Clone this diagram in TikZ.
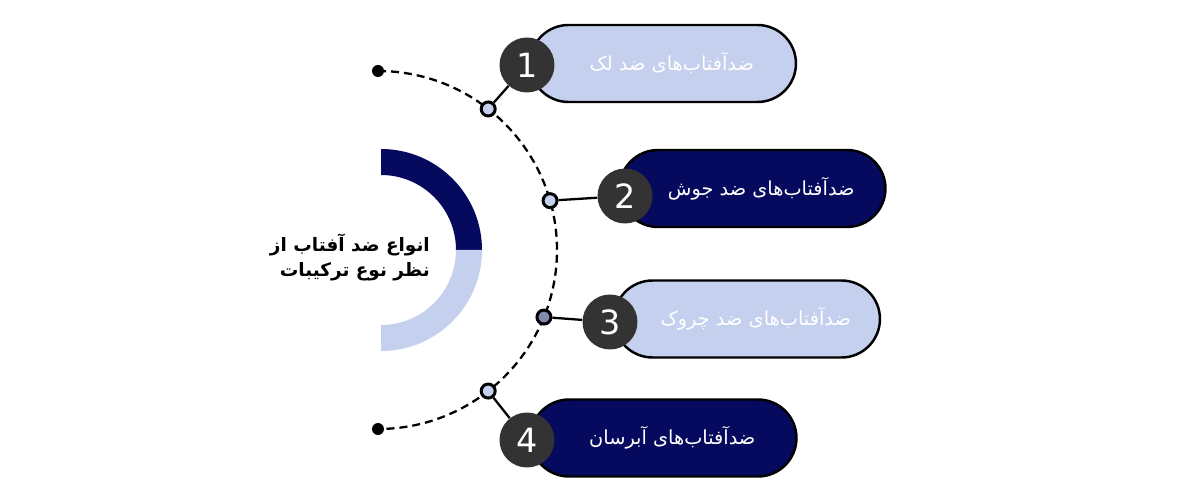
\documentclass[tikz,border=0pt]{standalone}
\usepackage{fontspec}
\setmainfont{DejaVu Sans}
\newfontfamily\fafont[Script=Arabic]{DejaVu Sans}
\TeXXeTstate=1
\usetikzlibrary{shapes.misc}
\definecolor{navy}{HTML}{050A5E}
\definecolor{lightblue}{HTML}{C5CFEE}
\definecolor{numgray}{HTML}{333333}
\definecolor{greyblue}{HTML}{7F8AAE}

\begin{document}
\begin{tikzpicture}[x=0.02cm,y=0.02cm,
  pill/.style={draw=black,line width=1.4pt,rounded corners=0.77cm,
    minimum width=5.32cm,minimum height=1.54cm,text=white,
    font=\fafont\fontsize{11}{13}\selectfont},
  num/.style={circle,fill=numgray,text=white,minimum size=1.1cm,
    inner sep=0pt,font=\fontsize{19}{21}\selectfont},
  knob/.style={circle,draw=black,line width=1.7pt,minimum size=0.28cm,
    inner sep=0pt,fill=lightblue},
  enddot/.style={circle,fill=black,minimum size=0.24cm,inner sep=0pt},
  link/.style={line width=1.3pt}]
  \useasboundingbox (-378,-250) rectangle (822,250);
  % half ring
  \fill[navy] (3,101) arc[start angle=90,end angle=0,radius=101]
    -- (78,0) arc[start angle=0,end angle=90,radius=75] -- cycle;
  \fill[lightblue] (104,0) arc[start angle=0,end angle=-90,radius=101]
    -- (3,-75) arc[start angle=-90,end angle=0,radius=75] -- cycle;
  \node[anchor=east,align=right,font=\fafont\bfseries\fontsize{10.5}{14.5}\selectfont]
    (title) at (58,-7.5) {\beginR انواع ضد آفتاب از\endR\\\beginR نظر نوع ترکیبات\endR};
  % dashed arc with end dots
  \draw[line width=1.3pt,dash pattern=on 0.16cm off 0.1cm]
    (0,179) arc[start angle=90,end angle=-90,radius=179];
  \node[enddot] (top) at (0,179) {};
  \node[enddot] (bottom) at (0,-179) {};
  % pills
  \node[pill,fill=lightblue] (p1) at (285,186.5) {\hspace{10pt}\beginR ضدآفتاب‌های ضد لک\endR};
  \node[pill,fill=navy] (p2) at (374.5,61.5) {\hspace{10pt}\beginR ضدآفتاب‌های ضد جوش\endR};
  \node[pill,fill=lightblue] (p3) at (369,-69) {\hspace{10pt}\beginR ضدآفتاب‌های ضد چروک\endR};
  \node[pill,fill=navy] (p4) at (285.5,-188) {\hspace{10pt}\beginR ضدآفتاب‌های آبرسان\endR};
  % numbers
  \node[num] (n1) at (149,185) {1};
  \node[num] (n2) at (247,54) {2};
  \node[num] (n3) at (232,-72) {3};
  \node[num] (n4) at (149,-190) {4};
  % knobs on the arc
  \node[knob] (k1) at (52:179) {};
  \node[knob] (k2) at (16:179) {};
  \node[knob,fill=greyblue] (k3) at (-22:179) {};
  \node[knob] (k4) at (-52:179) {};
  \draw[link] (k1) -- (n1);
  \draw[link] (k2) -- (n2);
  \draw[link] (k3) -- (n3);
  \draw[link] (k4) -- (n4);
\end{tikzpicture}
\end{document}
